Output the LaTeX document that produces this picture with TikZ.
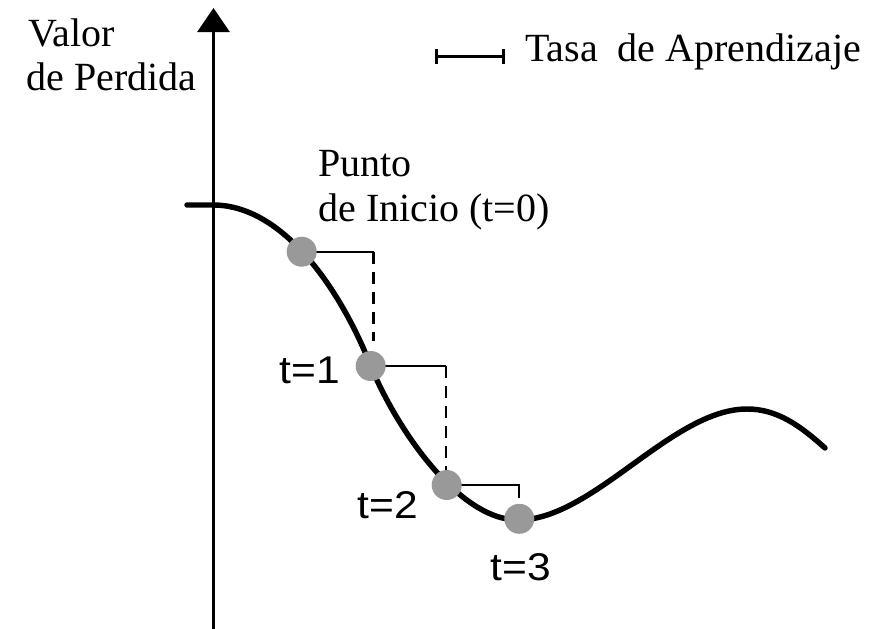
\documentclass[tikz,border=0pt]{standalone}
\usepackage{fontspec}
\setmainfont{Liberation Serif}
\newfontfamily\labsans{Liberation Sans}
\usetikzlibrary{arrows.meta}
\begin{document}
\begin{tikzpicture}[x=0.75pt,y=-0.75pt,
  sertext/.style={font=\fontsize{30}{34}\selectfont, inner sep=0pt, anchor=base west},
  tlabel/.style={font=\labsans\fontsize{29}{32}\selectfont, inner sep=0pt, anchor=base},
  dot/.style={circle, fill=black!40, minimum size=30*0.75pt, inner sep=0pt},
  stepline/.style={line width=1.6pt},
  dashline/.style={line width=1.8pt, dash pattern=on 9pt off 6pt},
  curveline/.style={line width=4.1pt, line cap=round}
]
\useasboundingbox (0,0) rectangle (869,629);
% axis
\coordinate (ybot) at (213.5,629);
\coordinate (ytop) at (213.5,8);
\draw[line width=2.2pt, -{Triangle[width=24pt,length=18pt]}] (ybot) -- (ytop);
% axis label
\node[sertext] (v1) at (28,46.7) {Valor};
\node[sertext] (v2) at (26,90.7) {de Perdida};
% legend
\coordinate (la) at (435,56.7);
\coordinate (lb) at (505,56.7);
\draw[line width=2.1pt, {Bar[width=11pt]}-{Bar[width=11pt]}] (la) -- (lb);
\node[sertext] (leg) at (525,61.7) {Tasa\ \ de Aprendizaje};
% start label
\node[sertext] (pi1) at (318,176.7) {Punto};
\node[sertext] (pi2) at (318,221.7) {de Inicio (t=0)};
% curve
\draw[curveline] (187,205) -- (213,205)
  .. controls (283,205) and (340,289) .. (370,364)
  .. controls (395,426.5) and (458,520) .. (518,520)
  .. controls (593,520) and (672,409) .. (747,409)
  .. controls (777,409) and (800,425.5) .. (825,448);
% step points
\coordinate (c0) at (301.7,251.7);
\coordinate (c1) at (370.7,366);
\coordinate (c2) at (446.7,485);
\coordinate (c3) at (519.3,518.8);
\coordinate (s0) at (373.5,251.7);
\coordinate (d0) at (373.5,341);
\coordinate (s1) at (446,366);
\coordinate (d1) at (446,471);
\coordinate (s2) at (519.3,485);
\coordinate (d2) at (519.3,498);
\draw[stepline] (c0) -- (s0);
\draw[dashline] (s0) -- (d0);
\draw[stepline] (c1) -- (s1);
\draw[dashline] (s1) -- (d1);
\draw[stepline] (c2) -- (s2) -- (d2);
\node[dot] (p0) at (c0) {};
\node[dot] (p1) at (c1) {};
\node[dot] (p2) at (c2) {};
\node[dot] (p3) at (c3) {};
% time labels
\node[tlabel] (t1) at (310,383) {\scalebox{1.1}[1]{t=1}};
\node[tlabel] (t2) at (388,518) {\scalebox{1.1}[1]{t=2}};
\node[tlabel] (t3) at (521,580) {\scalebox{1.1}[1]{t=3}};
\end{tikzpicture}
\end{document}
